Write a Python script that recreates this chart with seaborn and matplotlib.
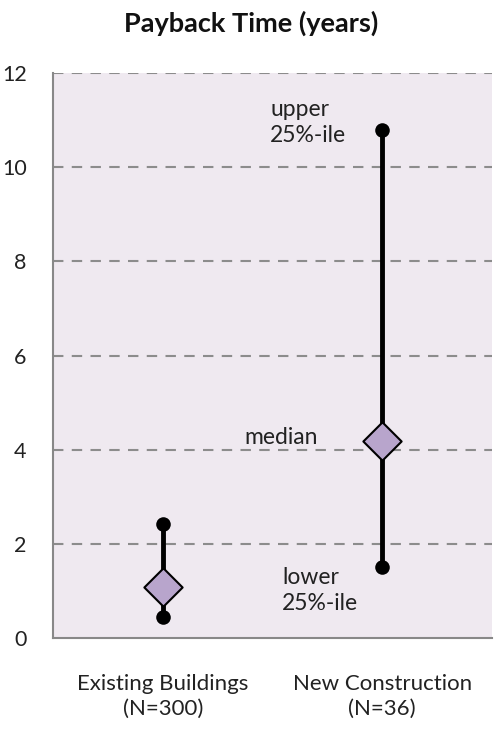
import numpy as np
import pandas as pd
import matplotlib
matplotlib.use('Agg')
import matplotlib.pyplot as plt
import seaborn as sns

# values
categories = ['Existing Buildings\n(N=300)', 'New Construction\n(N=36)']
lower_25 = [0.45, 1.51]
median = [1.08, 4.18]
upper_25 = [2.43, 10.8]

sns.set_style('white')
plt.rcParams['font.family'] = ['Lato', 'DejaVu Sans']

pos = np.arange(len(categories))
ends = pd.DataFrame({'x': np.concatenate([pos, pos]),
                     'y': lower_25 + upper_25})
mids = pd.DataFrame({'x': pos, 'y': median})

fig = plt.figure(figsize=(5.02, 7.31), dpi=100)
ax = fig.add_axes([0.1056, 0.1272, 0.8744, 0.7728])
ax.set_facecolor('#efe9f0')

ax.vlines(pos, lower_25, upper_25, color='black', lw=3.5, zorder=3)
sns.scatterplot(data=ends, x='x', y='y', ax=ax, color='black', s=110,
                marker='o', linewidth=0, zorder=4, legend=False)
sns.scatterplot(data=mids, x='x', y='y', ax=ax, color='#b8a5cc', s=380,
                marker='D', edgecolor='black', linewidth=1.5, zorder=5,
                legend=False)

ax.set_xlim(-0.5, 1.5)
ax.set_ylim(0, 12)
ax.set_yticks(range(0, 13, 2))
ax.set_xticks(pos)
ax.set_xticklabels(categories, fontsize=16, color='#222222', linespacing=1.3)
ax.set_xticks([0.5, 1.5], minor=True)
ax.tick_params(axis='x', which='major', length=0, pad=26)
ax.tick_params(axis='x', which='minor', length=6, width=1.5, color='#888888',
               direction='out')
ax.tick_params(axis='y', length=7, width=1.5, color='#888888', labelsize=15.5,
               labelcolor='#222222', pad=12)
ax.set_xlabel('')
ax.set_ylabel('')

for y in range(2, 13, 2):
    ax.axhline(y, color='#8c8c8c', lw=1.5, ls=(0, (5, 4)), zorder=1)

for s in ['top', 'right']:
    ax.spines[s].set_visible(False)
for s in ['left', 'bottom']:
    ax.spines[s].set_color('#888888')
    ax.spines[s].set_linewidth(1.5)

ax.text(0.49, 10.96, 'upper\n25%-ile', fontsize=16.5, color='#222222',
        ha='left', va='center', linespacing=1.3)
ax.text(0.37, 4.27, 'median', fontsize=16.5, color='#222222',
        ha='left', va='center')
ax.text(0.545, 1.0, 'lower\n25%-ile', fontsize=16.5, color='#222222',
        ha='left', va='center', linespacing=1.3)

fig.suptitle('Payback Time (years)', x=0.5, y=0.985, fontsize=19.5,
             fontweight='bold', color='#111111')

fig.savefig('out.png', dpi=100, facecolor='white')
